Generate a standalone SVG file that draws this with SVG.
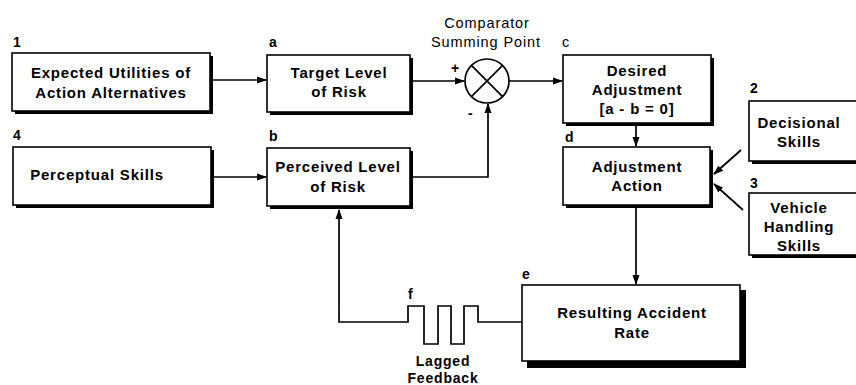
<svg xmlns="http://www.w3.org/2000/svg" width="856" height="385" viewBox="0 0 856 385">
<style>
.box{fill:#fff;stroke:#000;stroke-width:1.6}
.sh{fill:#000}
.t{font-family:"Liberation Sans",Arial,sans-serif;font-size:15px;font-weight:bold;letter-spacing:0.8px;text-anchor:middle;fill:#000}
.ft{font-family:"Liberation Sans",Arial,sans-serif;font-size:14px;font-weight:bold;letter-spacing:0.8px;text-anchor:middle;fill:#000}
.lb{font-family:"Liberation Sans",Arial,sans-serif;font-size:14px;font-weight:bold;fill:#000}
.cm{font-family:"Liberation Sans",Arial,sans-serif;font-size:14.5px;letter-spacing:0.9px;text-anchor:middle;fill:#000}
.ln{fill:none;stroke:#000;stroke-width:1.7}
</style>
<defs>
<marker id="ah" markerWidth="10" markerHeight="8" refX="9" refY="4" orient="auto" markerUnits="userSpaceOnUse">
<path d="M0,0.5 L10,4 L0,7.5 Z" fill="#000"/>
</marker>
</defs>
<rect width="856" height="385" fill="#fff"/>

<g id="n1">
<rect class="sh" x="15" y="56" width="198" height="58"/>
<rect class="box" x="12" y="53" width="198" height="58"/>
<text class="lb" x="13" y="47">1</text>
<text class="t" x="111" y="78">Expected Utilities of</text>
<text class="t" x="111" y="98">Action Alternatives</text>
</g>
<g id="na">
<rect class="sh" x="270" y="58" width="143" height="57"/>
<rect class="box" x="267" y="55" width="143" height="57"/>
<text class="lb" x="269" y="47">a</text>
<text class="t" x="339" y="78">Target Level</text>
<text class="t" x="339" y="97">of Risk</text>
</g>
<g id="comparator">
<circle cx="487" cy="81" r="22" fill="#fff" stroke="#000" stroke-width="1.7"/>
<path class="ln" d="M471.4,65.4 L502.6,96.6 M502.6,65.4 L471.4,96.6"/>
<text class="cm" x="487" y="28">Comparator</text>
<text class="cm" x="486" y="47">Summing Point</text>
<text class="lb" x="451" y="73">+</text>
<text class="lb" x="468" y="118">-</text>
</g>
<g id="nc">
<rect class="sh" x="566" y="58" width="148" height="68"/>
<rect class="box" x="563" y="55" width="148" height="68"/>
<text class="cm" x="566" y="47">c</text>
<text class="t" x="637" y="76">Desired</text>
<text class="t" x="637" y="95">Adjustment</text>
<text class="t" x="637" y="114">[a - b = 0]</text>
</g>
<g id="n4">
<rect class="sh" x="16" y="150" width="198" height="58"/>
<rect class="box" x="13" y="147" width="198" height="58"/>
<text class="lb" x="13" y="140">4</text>
<text class="t" x="97" y="180">Perceptual Skills</text>
</g>
<g id="nb">
<rect class="sh" x="270" y="151" width="143" height="58"/>
<rect class="box" x="267" y="148" width="143" height="58"/>
<text class="lb" x="269" y="141">b</text>
<text class="t" x="338" y="172">Perceived Level</text>
<text class="t" x="338" y="192">of Risk</text>
</g>
<g id="nd">
<rect class="sh" x="566" y="150" width="147" height="58"/>
<rect class="box" x="563" y="147" width="147" height="58"/>
<text class="lb" x="565" y="142">d</text>
<text class="t" x="637" y="172">Adjustment</text>
<text class="t" x="637" y="191">Action</text>
</g>
<g id="n2">
<rect class="sh" x="752" y="104" width="110" height="60"/>
<rect class="box" x="749" y="101" width="110" height="60"/>
<text class="lb" x="750" y="93">2</text>
<text class="t" x="799" y="128">Decisional</text>
<text class="t" x="799" y="147">Skills</text>
</g>
<g id="n3">
<rect class="sh" x="752" y="196" width="110" height="62"/>
<rect class="box" x="749" y="193" width="110" height="62"/>
<text class="lb" x="750" y="188">3</text>
<text class="t" x="799" y="213">Vehicle</text>
<text class="t" x="799" y="232">Handling</text>
<text class="t" x="799" y="251">Skills</text>
</g>
<g id="ne">
<rect class="sh" x="527" y="290" width="219" height="78"/>
<rect class="box" x="522" y="285" width="218" height="76"/>
<text class="lb" x="522" y="279">e</text>
<text class="t" x="632" y="318">Resulting Accident</text>
<text class="t" x="632" y="338">Rate</text>
</g>
<g id="connectors">
<line class="ln" x1="213" y1="80" x2="266" y2="80" marker-end="url(#ah)"/>
<line class="ln" x1="413" y1="81" x2="464" y2="81" marker-end="url(#ah)"/>
<line class="ln" x1="509" y1="81" x2="562" y2="81" marker-end="url(#ah)"/>
<line class="ln" x1="214" y1="177" x2="266" y2="177" marker-end="url(#ah)"/>
<polyline class="ln" points="413,177 488,177 488,104" marker-end="url(#ah)"/>
<line class="ln" x1="636" y1="126" x2="636" y2="146" marker-end="url(#ah)"/>
<line class="ln" x1="636" y1="208" x2="636" y2="284" marker-end="url(#ah)"/>
<line class="ln" x1="741" y1="150" x2="714" y2="174" marker-end="url(#ah)"/>
<line class="ln" x1="743" y1="210" x2="714" y2="184" marker-end="url(#ah)"/>
<polyline class="ln" points="522,322 478,322 478,306 464,306 464,344 451,344 451,306 438,306 438,344 424,344 424,306 408,306 408,322 339,322 339,210" marker-end="url(#ah)"/>
<text class="lb" x="408" y="299">f</text>
<text class="ft" x="443" y="366">Lagged</text>
<text class="ft" x="443" y="383">Feedback</text>
</g>
</svg>
